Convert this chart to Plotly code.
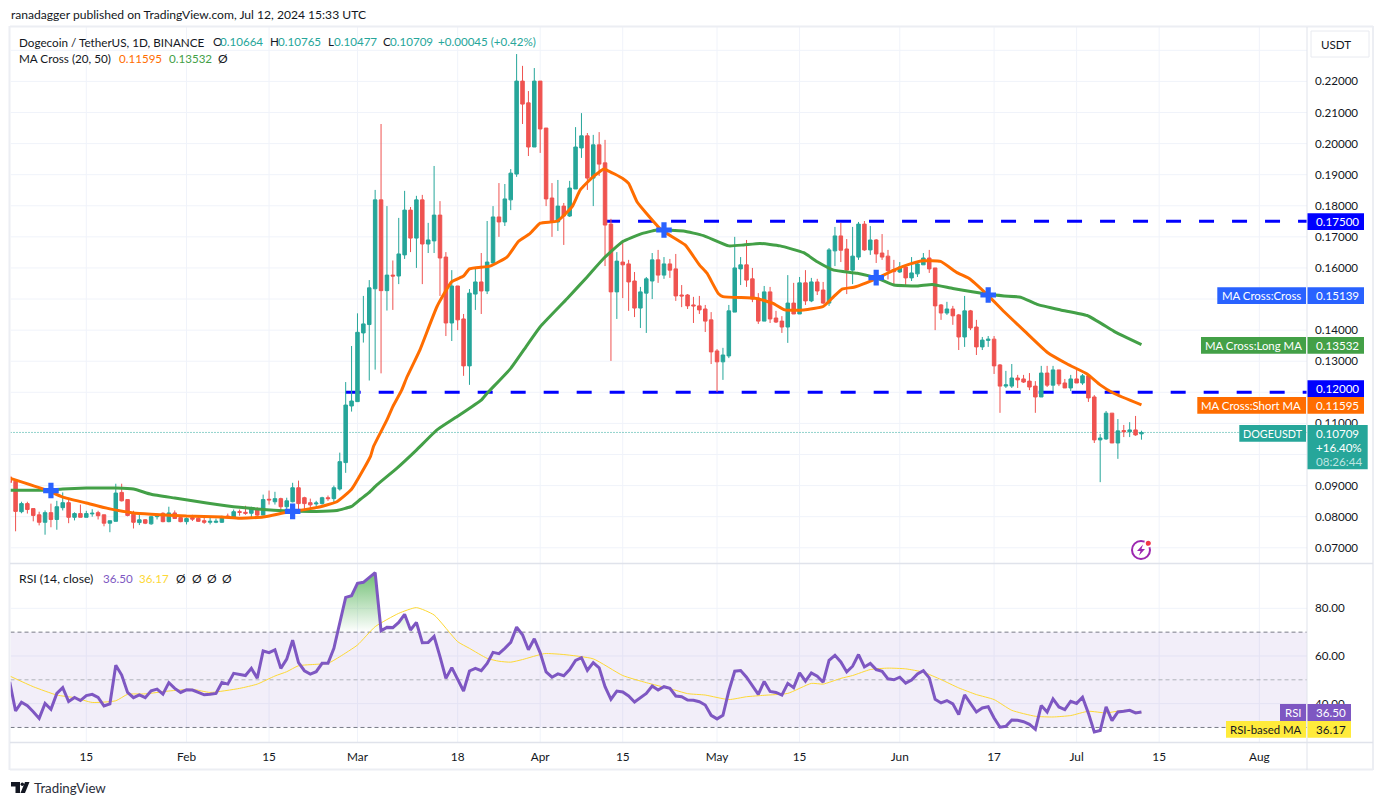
import pandas as pd
import plotly.graph_objects as go

W, H = 1383, 805
FONT = "Lato"
TEAL, RED = "#26a69a", "#ef5350"
ORANGE, GREEN, BLUE, PURPLE, YELLOW = "#ff6d00", "#43a047", "#2962ff", "#7e57c2", "#fdd835"
INK = "#131722"

dates = pd.date_range("2024-01-02", "2024-07-12", freq="D").strftime("%Y-%m-%d").tolist()

opens = [
 .0928,.0914,.0816,.0842,.0826,.0806,.0782,.0813,.0791,.0829,.0845,.0798,.0810,.0798,.0809,.0813,.0806,.0779,.0785,.0878,.0855,.0808,.0781,.0790,.0777,.0800,.0811,.0784,.0812,.0797,
 .0784,.0797,.0795,.0787,.0782,.0782,.0782,.0802,.0797,.0816,.0814,.0811,.0824,.0805,.0856,.0848,.0858,.0832,.0848,.0893,.0861,.0845,.0841,.0842,.0861,.0858,.0889,.0974,.1156,
 .1170,.1391,.1418,.1533,.1819,.1527,.1577,.1574,.1642,.1786,.1696,.1819,.1677,.1687,.1770,.1635,.1423,.1542,.1436,.1285,.1516,.1555,.1526,.1616,.1764,.1748,.1819,.1902,.2201,.2131,.1989,
 .2201,.2050,.1825,.1748,.1799,.1767,.1854,.1986,.2025,.1889,.1996,.1938,.1741,.1523,.1619,.1613,.1558,.1471,.1519,.1558,.1626,.1577,.1613,.1597,.1513,.1513,.1481,.1478,.1468,.1433,
 .1333,.1298,.1317,.1458,.1597,.1610,.1565,.1503,.1429,.1523,.1439,.1429,.1410,.1487,.1452,.1552,.1494,.1555,.1529,.1487,.1655,.1703,.1661,.1593,.1635,.1741,.1658,.1690,.1648,.1638,.1595,
 .1587,.1603,.1568,.1581,.1610,.1632,.1600,.1481,.1455,.1468,.1449,.1378,.1462,.1410,.1346,.1367,.1371,.1288,.1220,.1220,.1246,.1243,.1236,.1220,.1185,.1262,.1223,.1272,.1230,.1214,
 .1243,.1230,.1253,.1185,.1047,.1050,.1133,.1037,.1077,.1073,.1079,.10664]
highs = [
 .0935,.0921,.0848,.0848,.0826,.0816,.0820,.0842,.0851,.0878,.0855,.0814,.0839,.0819,.0824,.0819,.0806,.0787,.0906,.0906,.0855,.0819,.0806,.0792,.0803,.0810,.0814,.0832,.0820,.0800,
 .0798,.0806,.0801,.0798,.0801,.0794,.0803,.0810,.0823,.0823,.0835,.0832,.0830,.0871,.0884,.0880,.0861,.0861,.0909,.0916,.0864,.0858,.0851,.0864,.0868,.0900,.1006,.1233,.1349,
 .1454,.1510,.1561,.1851,.2063,.1799,.1624,.1761,.1848,.1796,.1832,.1835,.1745,.1928,.1815,.1651,.1593,.1542,.1452,.1532,.1600,.1648,.1751,.1799,.1873,.1870,.1918,.2288,.2250,.2169,.2243,
 .2201,.2050,.1873,.1883,.1809,.1880,.2053,.2098,.2034,.2028,.2037,.2012,.1758,.1651,.1690,.1626,.1587,.1539,.1571,.1648,.1658,.1635,.1629,.1645,.1545,.1516,.1507,.1510,.1481,.1458,
 .1339,.1343,.1481,.1700,.1635,.1690,.1600,.1519,.1542,.1539,.1462,.1445,.1577,.1552,.1571,.1593,.1568,.1565,.1555,.1664,.1732,.1745,.1693,.1732,.1748,.1751,.1735,.1693,.1709,.1658,.1626,
 .1619,.1610,.1635,.1622,.1648,.1658,.1600,.1484,.1491,.1478,.1452,.1510,.1465,.1433,.1378,.1381,.1381,.1291,.1269,.1291,.1256,.1256,.1262,.1236,.1285,.1285,.1285,.1272,.1243,.1256,
 .1275,.1259,.1259,.1191,.1066,.1140,.1133,.1114,.1095,.1104,.1124,.10765]
lows = [
 .0905,.0753,.0811,.0810,.0785,.0772,.0742,.0766,.0758,.0820,.0779,.0788,.0798,.0798,.0800,.0791,.0769,.0750,.0785,.0849,.0801,.0762,.0773,.0776,.0774,.0791,.0782,.0782,.0794,.0782,
 .0775,.0786,.0783,.0777,.0775,.0779,.0780,.0795,.0795,.0803,.0806,.0795,.0797,.0805,.0839,.0839,.0820,.0824,.0846,.0819,.0820,.0824,.0829,.0839,.0851,.0842,.0884,.0941,.1138,
 .1170,.1360,.1238,.1273,.1261,.1463,.1465,.1548,.1629,.1651,.1600,.1548,.1648,.1648,.1510,.1381,.1365,.1400,.1253,.1224,.1465,.1452,.1516,.1613,.1700,.1735,.1786,.1893,.2063,.1960,.1989,
 .1970,.1799,.1700,.1719,.1674,.1764,.1854,.1954,.1851,.1799,.1896,.1606,.1301,.1436,.1503,.1462,.1442,.1407,.1391,.1500,.1552,.1565,.1568,.1494,.1474,.1468,.1423,.1452,.1394,.1291,
 .1201,.1240,.1310,.1458,.1545,.1539,.1490,.1420,.1429,.1423,.1423,.1391,.1359,.1452,.1452,.1481,.1490,.1513,.1484,.1478,.1606,.1619,.1516,.1548,.1626,.1655,.1642,.1616,.1626,.1563,.1542,
 .1584,.1545,.1558,.1571,.1610,.1584,.1400,.1433,.1449,.1417,.1336,.1346,.1400,.1320,.1336,.1346,.1259,.1134,.1214,.1214,.1214,.1230,.1207,.1134,.1185,.1217,.1204,.1220,.1214,.1204,
 .1230,.1224,.1169,.1037,.0911,.1047,.1037,.0986,.1056,.1056,.1060,.10477]
closes = [
 .0910,.0817,.0842,.0823,.0804,.0782,.0813,.0791,.0832,.0845,.0798,.0810,.0798,.0810,.0811,.0803,.0779,.0787,.0876,.0851,.0804,.0782,.0790,.0779,.0800,.0804,.0784,.0812,.0794,.0784,
 .0794,.0792,.0785,.0782,.0785,.0785,.0800,.0799,.0816,.0814,.0811,.0826,.0805,.0855,.0854,.0858,.0832,.0851,.0893,.0842,.0842,.0838,.0844,.0861,.0858,.0893,.0977,.1159,.1172,
 .1393,.1420,.1536,.1819,.1527,.1577,.1574,.1645,.1786,.1696,.1819,.1677,.1690,.1770,.1632,.1423,.1542,.1433,.1285,.1519,.1555,.1526,.1619,.1764,.1748,.1822,.1905,.2201,.2127,.1989,.2201,
 .2047,.1822,.1748,.1799,.1767,.1857,.1989,.2025,.1889,.1996,.1934,.1738,.1523,.1622,.1610,.1555,.1471,.1523,.1565,.1626,.1577,.1613,.1593,.1510,.1510,.1478,.1478,.1465,.1429,.1330,
 .1298,.1320,.1462,.1600,.1610,.1561,.1500,.1429,.1523,.1436,.1426,.1410,.1487,.1452,.1552,.1494,.1555,.1526,.1487,.1658,.1703,.1657,.1593,.1638,.1741,.1658,.1690,.1645,.1635,.1591,.1588,
 .1603,.1568,.1584,.1613,.1632,.1597,.1478,.1455,.1468,.1446,.1378,.1462,.1407,.1346,.1368,.1371,.1285,.1220,.1224,.1246,.1240,.1233,.1217,.1185,.1262,.1223,.1272,.1227,.1214,.1243,
 .1230,.1253,.1182,.1047,.1053,.1133,.1037,.1076,.1073,.1079,.1063,.10709]

ma20_dates = ["01-02","01-08","01-11","01-15","01-19","01-23","01-26","02-01","02-07","02-10","02-14","02-18","02-23","02-26 12:00","02-29","03-03 05:00","03-03 17:00","03-06","03-07","03-08 12:00","03-09 10:00","03-11 14:00","03-14 12:00","03-17","03-19","03-20","03-23 12:00","03-26 10:00","03-28 07:00","03-30 07:00","04-01","04-03 22:00","04-06 10:00","04-07 19:00","04-10","04-11 19:00","04-12 07:00","04-15","04-16","04-17 10:00","04-19","04-21 14:00","04-25 14:00","04-28","04-29 07:00","05-01 05:00","05-02","05-07 17:00","05-10 12:00","05-12 12:00","05-15 17:00","05-19","05-20 19:00","05-22 05:00","05-24 05:00","05-26 10:00","05-28 05:00","05-31","06-02 19:00","06-05","06-07 22:00","06-10 17:00","06-12 17:00","06-15 19:00","06-18 17:00","06-22","06-26","06-29 10:00","07-02 19:00","07-05","07-07 07:00","07-12"]
ma20_vals = [.0924,.0887,.0863,.0844,.0825,.0812,.0808,.0802,.0799,.0795,.0799,.0814,.0829,.0848,.0888,.0994,.1025,.1111,.1154,.1207,.1250,.1336,.1476,.1556,.1574,.1597,.1606,.1636,.1685,.1711,.1744,.1751,.1797,.1851,.1894,.1918,.1915,.1888,.1872,.1813,.1776,.1722,.1674,.1610,.1583,.1518,.1508,.1502,.1486,.1465,.1465,.1476,.1508,.1532,.1538,.1553,.1567,.1593,.1613,.1623,.1621,.1585,.1567,.1515,.1459,.1400,.1329,.1291,.1259,.1224,.1197,.11595]

ma50_dates = ["01-02","01-08","01-11","01-15","01-20","01-23","01-26","01-30","02-04 10:00","02-10","02-15 19:00","02-19","02-23","02-26 12:00","02-29","03-01 12:00","03-03","03-04 07:00","03-07 17:00","03-11","03-14 12:00","03-17 22:00","03-22","03-23","03-27","03-29 19:00","04-01","04-05 14:00","04-09","04-11 19:00","04-15","04-18","04-20 19:00","04-25 07:00","04-28 17:00","05-03","05-05 12:00","05-08 07:00","05-11 17:00","05-15 17:00","05-18","05-20 19:00","05-24 19:00","05-28 05:00","05-31","06-04","06-06 12:00","06-10","06-15 19:00","06-18 17:00","06-21 12:00","06-24 07:00","06-28 07:00","07-02 19:00","07-07 07:00","07-09 14:00","07-12"]
ma50_vals = [.0885,.0885,.0889,.0892,.0892,.0889,.0872,.0860,.0844,.0830,.0821,.0818,.0817,.0820,.0833,.0856,.0878,.0902,.0956,.1014,.1079,.1122,.1175,.1197,.1277,.1352,.1411,.1502,.1572,.1631,.1685,.1709,.1722,.1719,.1704,.1671,.1674,.1679,.1671,.1649,.1620,.1593,.1583,.1567,.1545,.1542,.1547,.1534,.1516,.1510,.1506,.1483,.1465,.1447,.1397,.1375,.13532]

cross_dates = ["01-09","02-19","04-22","05-28","06-16"]
cross_vals = [.0884,.0817,.1722,.1569,.1513]

level_prices = [0.175, 0.12]
level_starts = ["2024-04-12 00:00", "2024-02-28 00:00"]

rsi = [
 49.2,36.9,40.6,39.1,36.6,33.8,40.1,37.6,44.3,46.7,40.9,42.6,41.3,43.4,43.9,42.6,39,39.9,56.1,52,44.7,42.5,43.7,42.5,45.4,46.1,44,48.8,46.4,44.7,
 45.8,45.7,44.7,43.7,43.9,44.3,48.9,48.2,52.7,52.3,51.8,54.8,50.7,62.1,61.4,62.6,54.8,58.7,66.6,57.2,53.8,52.4,53.4,56.9,56.9,63.2,74.4,84.6,85.3,
 90.5,90.9,93,95,70.6,72,71.9,74.1,77.5,70.9,74.1,65.6,65.7,68.2,59.7,50.6,55.1,50.2,45.3,53.7,54.8,53.8,56.9,61.5,61,63.2,65.7,72.1,68.9,62.6,67.2,
 61.3,53.3,51.1,52.5,51.7,54.3,58.1,59.3,54,57.2,55,47.1,41.8,45.3,44.9,43.2,40.7,42.5,44.3,47.4,45.7,47.1,46.4,43.2,42.9,41.5,41.4,40.8,39.4,35.1,
 33.6,35.1,45.3,53.6,53.9,51.1,47.4,43.9,49.3,45.1,44.7,43.6,48.5,46.7,52.9,49.4,52.9,51.5,49,58.2,60.3,57.5,53.3,55.7,60.6,55.4,56.9,54.3,53.6,50.4,50,
 51.1,48.6,49.9,52.5,53.8,50.8,41.8,40.3,41.3,39.9,35.4,43.7,40,36.5,38.2,38.7,34,30.1,30.5,33.1,33,32.4,31.3,29.2,39.2,36.5,42,38.6,37.5,41,
 40.1,42.7,36,28.1,28.7,38.6,32.9,36.5,36.8,37.2,36.1,36.5]

rsi_ma_dates = ["01-02","01-06","01-10","01-13","01-16","01-20","01-22","01-25","01-29","02-02","02-05","02-10","02-13","02-16","02-18","02-20","02-23","02-25","02-27","03-01","03-04","03-08","03-11","03-14","03-18","03-20","03-23","03-25","03-27","03-29","04-01 18:00","04-05","04-10","04-15","04-19","04-23","04-26","04-29","05-03","05-06","05-09","05-13","05-17","05-19","05-22","05-24","05-27","05-30","06-02","06-05","06-08","06-11","06-14","06-17","06-20","06-24","06-27","06-30","07-03","07-06","07-09","07-12"]
rsi_ma_vals = [51.6,47.1,43.6,42.5,40.5,41.2,43.9,44.1,45.3,46,44.7,46.4,48.2,51.6,53.4,55.9,56.5,56.9,59.7,64.6,72.3,77.9,80.3,77.2,66,63.2,59,57.8,57.4,58.5,61,60.6,58.8,51.8,48.8,46.3,44.2,43.6,41.7,42.9,43.5,44.3,48.5,48.2,50.6,51.8,54.3,54.9,54.6,53.2,50.1,46.6,43.8,41.7,37.2,34.7,34.4,35,36.8,36.1,37.2,36.17]

tick_dates = ["2024-01-15","2024-02-01","2024-02-15","2024-03-01","2024-03-18","2024-04-01","2024-04-15","2024-05-01","2024-05-15","2024-06-01","2024-06-17","2024-07-01","2024-07-15","2024-08-01"]
tick_labels = ["15","Feb","15","Mar","18","Apr","15","May","15","Jun","17","Jul","15","Aug"]
grid_prices = [.07,.08,.09,.10,.11,.12,.13,.14,.15,.16,.17,.18,.19,.20,.21,.22,.23]
price_ticks = [.07,.08,.09,.11,.13,.14,.16,.17,.18,.19,.20,.21,.22]
rsi_ticks = [40, 60, 80]

last_price = .10709
x_start, x_end = "2024-01-02 03:20", "2024-08-09 02:00"
y_range = [.0651, .2375]
y2_range = [23.9, 98.6]


def yr(d):
    return "2024-" + d


def px(x):
    return x / W


def py(y):
    return 1 - y / H


fig = go.Figure()
fig.add_trace(go.Candlestick(
    x=dates, open=opens, high=highs, low=lows, close=closes,
    increasing=dict(line=dict(color=TEAL, width=1), fillcolor=TEAL),
    decreasing=dict(line=dict(color=RED, width=1), fillcolor=RED),
    whiskerwidth=0, xaxis="x", yaxis="y", showlegend=False, hoverinfo="skip"))
fig.add_trace(go.Scatter(x=[yr(d) for d in ma50_dates], y=ma50_vals, mode="lines",
                         line=dict(color=GREEN, width=3, shape="spline", smoothing=0.4), yaxis="y"))
fig.add_trace(go.Scatter(x=[yr(d) for d in ma20_dates], y=ma20_vals, mode="lines",
                         line=dict(color=ORANGE, width=3, shape="spline", smoothing=0.4), yaxis="y"))
fig.add_trace(go.Scatter(x=[yr(d) for d in cross_dates], y=cross_vals, mode="markers",
                         marker=dict(symbol="cross", size=13, color=BLUE, line=dict(width=0)), yaxis="y"))

# overbought gradient: the parts of the RSI line above 70
ts = pd.to_datetime(dates)
fx, fy = [], []
for i in range(len(rsi) - 1):
    a, b = rsi[i], rsi[i + 1]
    if a <= 70 < b:
        t = ts[i] + (ts[i + 1] - ts[i]) * ((70 - a) / (b - a))
        fx.append(t)
        fy.append(70)
    if b > 70:
        fx.append(ts[i + 1])
        fy.append(b)
    if a > 70 >= b:
        t = ts[i] + (ts[i + 1] - ts[i]) * ((70 - a) / (b - a))
        fx.extend([t, None])
        fy.extend([70, None])
fig.add_trace(go.Scatter(x=fx, y=fy, mode="lines", line=dict(width=0), fill="toself", yaxis="y2",
                         fillgradient=dict(type="vertical", colorscale=[[0, "rgba(76,175,80,0)"],
                                                                        [1, "rgba(76,175,80,0.8)"]])))
fig.add_trace(go.Scatter(x=[yr(d) for d in rsi_ma_dates], y=rsi_ma_vals, mode="lines",
                         line=dict(color=YELLOW, width=1, shape="spline", smoothing=0.5), yaxis="y2"))
fig.add_trace(go.Scatter(x=dates, y=rsi, mode="lines", line=dict(color=PURPLE, width=3), yaxis="y2"))

shapes = []
GRID = "#f0f3fa"


def grid(xref, yref, x0, x1, y0, y1):
    shapes.append(dict(type="line", xref=xref, yref=yref, x0=x0, x1=x1, y0=y0, y1=y1, layer="below",
                       line=dict(color=GRID, width=1)))


# gridlines first, so level lines sit on top of them
for p in grid_prices:
    grid("x", "y", x_start, x_end, p, p)
for v in rsi_ticks:
    grid("x", "y2", x_start, x_end, v, v)
for d in tick_dates:
    grid("x", "y", d, d, y_range[0], y_range[1])
    grid("x", "y2", d, d, y2_range[0], y2_range[1])

# RSI band
shapes.append(dict(type="rect", xref="x", yref="y2", x0=x_start, x1=x_end, y0=30, y1=70, layer="below",
                   fillcolor="rgba(126,87,194,0.1)", line=dict(width=0)))
for v, c in [(70, "#787b86"), (50, "#b0b2ba"), (30, "#787b86")]:
    shapes.append(dict(type="line", xref="x", yref="y2", x0=x_start, x1=x_end, y0=v, y1=v, layer="below",
                       line=dict(color=c, width=1, dash="4px,3px")))
# key levels and last-price line below the candles
for price, start in zip(level_prices, level_starts):
    shapes.append(dict(type="line", xref="x", yref="y", x0=start, x1=x_end, y0=price, y1=price, layer="below",
                       line=dict(color="#0000ff", width=3, dash="15px,18px")))
shapes.append(dict(type="line", xref="x", yref="y", x0=x_start, x1=x_end, y0=last_price, y1=last_price, layer="below",
                   line=dict(color=TEAL, width=1, dash="1px,2px")))


def frame(x0, y0, x1, y1, color="#e0e3eb", width=1):
    shapes.append(dict(type="line", xref="paper", yref="paper", x0=px(x0), y0=py(y0), x1=px(x1), y1=py(y1),
                       layer="above", line=dict(color=color, width=width)))


frame(10, 26.5, 1373, 26.5, "#eceef3", 2)
frame(9.5, 26, 9.5, 770, "#eceef3", 2)
frame(1373, 26, 1373, 770, "#eceef3", 2)
frame(10, 769.5, 1373, 769.5, "#eceef3", 2)
frame(10, 563.5, 1373, 563.5, "#e0e3eb", 1.5)
frame(10, 742.5, 1373, 742.5, "#e0e3eb", 1.5)
frame(1307, 27, 1307, 770, "#e0e3eb", 1)


def box(x0, y0, x1, y1, color, line=None):
    shapes.append(dict(type="rect", xref="paper", yref="paper", x0=px(x0), y0=py(y0), x1=px(x1), y1=py(y1),
                       layer="above", fillcolor=color, line=dict(color=line or color, width=1 if line else 0)))


anns = []


def text(x, y, s, color=INK, size=12, anchor="left"):
    anns.append(dict(xref="paper", yref="paper", x=px(x), y=py(y), text=s, showarrow=False, xanchor=anchor,
                     yanchor="middle", borderpad=0, font=dict(family=FONT, size=size, color=color)))


TAG, VAL, VX = 11.4, 11.6, 1314.5
# right-hand price tags
box(1307.5, 213.3, 1364, 230, "#0000ff")
text(VX, 221.6, "0.17500", "#ffffff", VAL)
box(1217.3, 287.3, 1306, 304, BLUE)
box(1307.5, 287.3, 1364, 304, BLUE)
text(1261.6, 295.6, "MA Cross:Cross", "#ffffff", TAG, "center")
text(VX, 295.6, "0.15139", "#ffffff", VAL)
box(1201, 337, 1306, 353.7, GREEN)
box(1307.5, 337, 1364, 353.7, GREEN)
text(1253, 345.3, "MA Cross:Long MA", "#ffffff", TAG, "center")
text(VX, 345.3, "0.13532", "#ffffff", VAL)
box(1307.5, 380.3, 1364, 397, "#0000ff")
text(VX, 388.6, "0.12000", "#ffffff", VAL)
box(1197.3, 397, 1306, 413.7, ORANGE)
box(1307.5, 397, 1364, 413.7, ORANGE)
text(1251, 405.3, "MA Cross:Short MA", "#ffffff", TAG, "center")
text(VX, 405.3, "0.11595", "#ffffff", VAL)
box(1239.3, 425, 1306, 441.7, TEAL)
box(1307.5, 425, 1367.7, 469.3, TEAL)
text(1272.6, 433.3, "DOGEUSDT", "#ffffff", 10.8, "center")
text(VX, 433.3, "0.10709", "#ffffff", VAL)
text(VX, 447.7, "+16.40%", "#ffffff", VAL)
text(VX, 461.7, "08:26:44", "#bfe4e0", VAL)
box(1280, 704, 1306, 721, PURPLE)
box(1307.5, 704, 1351, 721, PURPLE)
text(1293, 712.5, "RSI", "#ffffff", TAG, "center")
text(VX, 712.5, "36.50", "#ffffff", VAL)
box(1226, 721, 1306, 737.7, "#ffeb3b")
box(1307.5, 721, 1351, 737.7, "#ffeb3b")
text(1266, 729.4, "RSI-based MA", INK, TAG, "center")
text(VX, 729.4, "36.17", INK, VAL)

# currency button
shapes.append(dict(type="rect", xref="paper", yref="paper", x0=px(1311), y0=py(57), x1=px(1369), y1=py(31),
                   layer="above", fillcolor="#ffffff", line=dict(color="#e8eaf0", width=1)))
text(1320, 44.5, "USDT", INK, 11.6)

# header and legends
text(10, 14.5, "ranadagger published on TradingView.com, Jul 12, 2024 15:33 UTC", INK, 12.1)
text(18, 41.5, "Dogecoin / TetherUS, 1D, BINANCE", INK, 11.7)
for x, s, c in [(212, "O", INK), (219, "0.10664", TEAL), (269, "H", INK), (277, "0.10765", TEAL),
                (327, "L", INK), (333, "0.10477", TEAL), (382, "C", INK), (389, "0.10709", TEAL),
                (437, "+0.00045 (+0.42%)", TEAL)]:
    text(x, 41.5, s, c, 11.6)
text(18, 58.5, "MA Cross (20, 50)", INK, 11.7)
text(118, 58.5, "0.11595", ORANGE, 11.6)
text(168, 58.5, "0.13532", GREEN, 11.6)
text(217, 58.5, "Ø")
text(18, 578.5, "RSI (14, close)", INK, 12.2)
text(102, 578.5, "36.50", PURPLE, 11.6)
text(138, 578.5, "36.17", YELLOW, 11.6)
for x in [175, 191, 206, 221]:
    text(x, 578.5, "Ø")


# footer logo + wordmark
def poly(points, color):
    p = "M " + " L ".join(f"{px(a):.5f},{py(b):.5f}" for a, b in points) + " Z"
    shapes.append(dict(type="path", xref="paper", yref="paper", path=p, fillcolor=color, line=dict(width=0), layer="above"))


poly([(11, 782), (20, 782), (20, 793), (15.5, 793), (15.5, 786.5), (11, 786.5)], INK)
poly([(25, 782), (29.5, 782), (25, 793), (20.5, 793)], INK)
shapes.append(dict(type="circle", xref="paper", yref="paper", x0=px(20.6), x1=px(24), y0=py(786), y1=py(782.6),
                   fillcolor=INK, line=dict(width=0), layer="above"))
text(33, 787.5, "TradingView", "#2a2e39", 13.3)

# purple event icon
shapes.append(dict(type="circle", xref="paper", yref="paper", x0=px(1132), x1=px(1150), y0=py(559), y1=py(541),
                   fillcolor="#ffffff", line=dict(color="#9c27b0", width=2), layer="above"))
poly([(1143, 544.5), (1137, 551), (1140.5, 551), (1139, 555.5), (1145, 549), (1141.5, 549)], "#9c27b0")
shapes.append(dict(type="circle", xref="paper", yref="paper", x0=px(1145), x1=px(1151.6), y0=py(546.6), y1=py(540),
                   fillcolor="#f23645", line=dict(color="#ffffff", width=1.5), layer="above"))

fig.update_layout(
    width=W, height=H, autosize=False, margin=dict(l=0, r=0, t=0, b=0),
    paper_bgcolor="#ffffff", plot_bgcolor="#ffffff", showlegend=False, boxgap=0.15,
    font=dict(family=FONT, size=12, color=INK), hovermode=False,
    xaxis=dict(domain=[px(10.5), px(1307)], range=[x_start, x_end], type="date", anchor="y2",
               tickmode="array", tickvals=tick_dates, ticktext=tick_labels, ticks="", ticklabelstandoff=6,
               showgrid=False, zeroline=False, showline=False,
               rangeslider=dict(visible=False), tickfont=dict(family=FONT, size=11.8, color=INK)),
    yaxis=dict(domain=[py(563), py(27)], range=y_range, side="right", anchor="x",
               tickmode="array", tickvals=price_ticks, tickformat=".5f", ticks="", ticklabelstandoff=7,
               showgrid=False, zeroline=False, showline=False,
               tickfont=dict(family=FONT, size=11.6, color=INK)),
    yaxis2=dict(domain=[py(742), py(564)], range=y2_range, side="right", anchor="x",
                tickmode="array", tickvals=rsi_ticks, tickformat=".2f", ticks="", ticklabelstandoff=7,
                showgrid=False, zeroline=False, showline=False,
                tickfont=dict(family=FONT, size=11.6, color=INK)),
    shapes=shapes, annotations=anns,
)

fig.write_html("out.html", config=dict(displayModeBar=False),
               post_script="document.body.style.margin='0';document.body.style.overflow='hidden';")
